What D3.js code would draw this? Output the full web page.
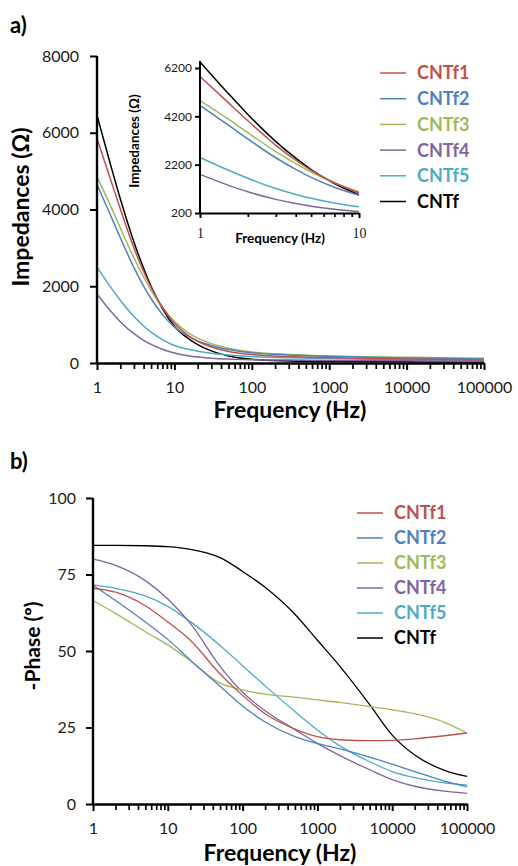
<!DOCTYPE html>
<html>
<head>
<meta charset="utf-8">
<script src="https://cdn.jsdelivr.net/npm/d3@7"></script>
<style>
  body { margin: 0; background: #fff; }
  text { font-family: Lato, "Open Sans", sans-serif; }
</style>
</head>
<body>
<svg id="chart" width="518" height="866"></svg>
<script>
// Series names and colours (legend order)
var names = ["CNTf1", "CNTf2", "CNTf3", "CNTf4", "CNTf5", "CNTf"];
var colors = ["#C0504D", "#4F81BD", "#9BBB59", "#8064A2", "#4BACC6", "#000000"];

// a) impedance (ohm)
var zFreq  = [1, 1.5, 2, 3, 4, 5, 7, 10, 15, 20, 30, 50, 100, 300, 1000, 10000, 100000];
var zCNTf1 = [5850, 4776, 4017, 3000, 2383, 1967, 1452, 1035, 718, 562, 415, 302, 221, 168, 137, 101, 80];
var zCNTf2 = [4650, 3845, 3263, 2486, 2003, 1675, 1267, 936, 699, 578, 457, 354, 268, 210, 175, 129, 103];
var zCNTf3 = [4850, 4092, 3522, 2740, 2241, 1891, 1445, 1078, 792, 648, 504, 387, 289, 222, 185, 147, 122];
var zCNTf4 = [1800, 1355, 1077, 763, 592, 484, 358, 261, 189, 155, 124, 101, 85, 75, 68, 57, 45];
var zCNTf5 = [2500, 1977, 1635, 1211, 965, 806, 610, 455, 357, 309, 257, 210, 167, 134, 116, 88, 62];
var zCNTf  = [6450, 5160, 4280, 3155, 2470, 2000, 1420, 960, 640, 480, 315, 185, 95, 55, 38, 30, 28];

// b) -phase (degrees)
var pFreq  = [1, 2, 5, 10, 20, 50, 100, 200, 500, 1000, 2000, 5000, 10000, 20000, 50000, 100000];
var pCNTf1 = [70.5, 69.2, 64.8, 59.5, 53.5, 42.5, 35.5, 29.5, 24.5, 22, 21, 20.7, 20.8, 21.3, 22.3, 23.2];
var pCNTf2 = [71.5, 66.5, 59.5, 53.8, 47, 38.5, 32, 26.8, 22, 19.7, 18, 15.3, 13, 10.6, 7.5, 5.7];
var pCNTf3 = [66.5, 62.3, 56.3, 52, 46.8, 39.5, 37.3, 35.9, 34.9, 34, 33.2, 31.8, 30.8, 29.5, 26.7, 23.2];
var pCNTf4 = [80, 78, 73, 67, 59, 45, 36.5, 30.5, 24.3, 19.8, 15.8, 11.2, 8, 5.8, 4.2, 3.5];
var pCNTf5 = [71.6, 70.5, 68, 64.6, 59.6, 51.8, 45.2, 38.6, 30.2, 24.2, 19, 13.8, 10.6, 8.6, 6.9, 6.2];
var pCNTf  = [84.5, 84.5, 84.4, 84.1, 83.2, 80.5, 76, 70.8, 62, 53.5, 45, 32.5, 22.5, 16, 11, 9];

var zTicks = [0, 2000, 4000, 6000, 8000];
var zInsetTicks = [200, 2200, 4200, 6200];
var pTicks = [0, 25, 50, 75, 100];
var fTicks = [1, 10, 100, 1000, 10000, 100000];

var svg = d3.select("#chart");

function makeSeries(freq, lists) {
    var out = [];
    for (var i = 0; i < lists.length; i++) {
        out.push(freq.map(function(f, j) { return {f: f, v: lists[i][j]}; }));
    }
    return out;
}

// minor log ticks between decades
function minorTicks(lo, hi) {
    var t = [];
    for (var d = lo; d < hi; d *= 10) {
        for (var k = 2; k < 10; k++) t.push(d * k);
    }
    return t;
}

function drawAxes(g, x, y, opt) {
    var x0 = x.range()[0];
    var yb = y.range()[0];

    // minor x ticks
    g.append("g").attr("transform", "translate(0," + yb + ")")
        .call(d3.axisBottom(x).tickValues(minorTicks(x.domain()[0], x.domain()[1]))
            .tickSize(opt.minorLen).tickFormat(""))
        .call(function(a) { a.select(".domain").remove(); })
        .selectAll("line").attr("stroke", "#000").attr("stroke-width", 1.7);

    // major x ticks + labels
    var ax = g.append("g").attr("class", "xaxis").attr("transform", "translate(0," + yb + ")")
        .call(d3.axisBottom(x).tickValues(opt.xTicks).tickSize(opt.majorLen)
            .tickSizeOuter(0).tickPadding(opt.xPad).tickFormat(d3.format("d")));
    ax.select(".domain").attr("stroke", "#000").attr("stroke-width", opt.axisWidth);
    ax.selectAll("line").attr("stroke", "#000").attr("stroke-width", 2);
    ax.selectAll("text").attr("fill", "#1a1a1a")
        .style("font-size", opt.tickSize + "px").style("font-family", null);

    // y axis
    var ay = g.append("g").attr("transform", "translate(" + x0 + ",0)")
        .call(d3.axisLeft(y).tickValues(opt.yTicks).tickSize(opt.majorLen)
            .tickSizeOuter(0).tickPadding(opt.yPad).tickFormat(d3.format("d")));
    ay.select(".domain").attr("stroke", "#000").attr("stroke-width", opt.axisWidth)
        .attr("d", "M0," + yb + "V" + opt.axisTop);
    ay.selectAll("line").attr("stroke", "#000").attr("stroke-width", 2);
    ay.selectAll("text").attr("fill", "#1a1a1a")
        .style("font-size", opt.tickSize + "px").style("font-family", null);
}

function drawLines(g, x, y, series, width) {
    var line = d3.line()
        .x(function(d) { return x(d.f); })
        .y(function(d) { return y(d.v); })
        .curve(d3.curveMonotoneX);
    // draw in reverse so CNTf1 sits on top like the original
    for (var i = series.length - 1; i >= 0; i--) {
        g.append("path")
            .datum(series[i])
            .attr("d", line)
            .attr("fill", "none")
            .attr("stroke", colors[i])
            .attr("stroke-width", width);
    }
}

function drawLegend(g, lx, ly, step) {
    names.forEach(function(n, i) {
        var yy = ly + i * step;
        g.append("line").attr("x1", lx).attr("x2", lx + 26).attr("y1", yy).attr("y2", yy)
            .attr("stroke", colors[i]).attr("stroke-width", 1.5);
        g.append("text").attr("x", lx + 37).attr("y", yy).attr("dy", "0.36em")
            .style("font-size", "18px").style("font-weight", "bold")
            .attr("fill", colors[i]).text(n);
    });
}

function boldText(x, y, txt, size, rotate) {
    var t = svg.append("text")
        .attr("text-anchor", "middle")
        .style("font-size", size + "px").style("font-weight", "bold")
        .attr("fill", "#000")
        .text(txt);
    if (rotate) t.attr("transform", "translate(" + x + "," + y + ") rotate(-90)");
    else t.attr("x", x).attr("y", y);
    return t;
}

// ---------------- a) impedance ----------------
var gA = svg.append("g");
var xA = d3.scaleLog().domain([1, 100000]).range([97, 484]);
var yA = d3.scaleLinear().domain([0, 8000]).range([363, 56]);
var zSeries = makeSeries(zFreq, [zCNTf1, zCNTf2, zCNTf3, zCNTf4, zCNTf5, zCNTf]);

drawLines(gA, xA, yA, zSeries, 1.5);
drawAxes(gA, xA, yA, {
    xTicks: fTicks, yTicks: zTicks, axisTop: 56, axisWidth: 2.4,
    majorLen: 7, minorLen: 6, xPad: 12, yPad: 11, tickSize: 16
});

// inset (1 - 10 Hz)
var gI = svg.append("g");
var xI = d3.scaleLog().domain([1, 10]).range([200, 359]);
var yI = d3.scaleLinear().domain([200, 6200]).range([213, 68]);
var insetSeries = zSeries.map(function(s) { return s.filter(function(d) { return d.f <= 10; }); });
drawLines(gI, xI, yI, insetSeries, 1.5);
drawAxes(gI, xI, yI, {
    xTicks: [1, 10], yTicks: zInsetTicks, axisTop: 61, axisWidth: 2,
    majorLen: 5, minorLen: 4, xPad: 10, yPad: 3, tickSize: 12
});
// inset x tick labels are in a serif face
gI.selectAll(".xaxis text")
    .style("font-family", "'Liberation Serif', serif").style("font-size", "14px");

boldText(280, 243, "Frequency (Hz)", 13.5, false);
boldText(139, 141, "Impedances (Ω)", 13.5, true);

drawLegend(gA, 380, 73, 25.7);

boldText(10, 33, "a)", 22, false).attr("text-anchor", "start");
boldText(29, 207, "Impedances (Ω)", 23, true);
boldText(290, 418, "Frequency (Hz)", 23, false);

// ---------------- b) phase ----------------
var gB = svg.append("g");
var xB = d3.scaleLog().domain([1, 100000]).range([93, 467]);
var yB = d3.scaleLinear().domain([0, 100]).range([804, 498]);
var pSeries = makeSeries(pFreq, [pCNTf1, pCNTf2, pCNTf3, pCNTf4, pCNTf5, pCNTf]);

drawLines(gB, xB, yB, pSeries, 1.3);
drawAxes(gB, xB, yB, {
    xTicks: fTicks, yTicks: pTicks, axisTop: 498, axisWidth: 2.4,
    majorLen: 7, minorLen: 6, xPad: 12, yPad: 10, tickSize: 16
});
drawLegend(gB, 357, 513, 25);

boldText(10, 469, "b)", 22, false).attr("text-anchor", "start");
boldText(40, 646, "-Phase (º)", 21, true);
boldText(280, 861, "Frequency (Hz)", 23, false);
</script>
</body>
</html>
